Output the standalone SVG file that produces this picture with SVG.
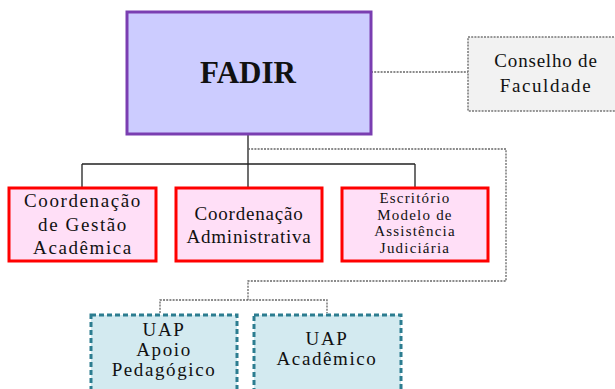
<svg xmlns="http://www.w3.org/2000/svg" width="615" height="389" viewBox="0 0 615 389">
<style>
text{font-family:"Liberation Serif","DejaVu Serif",serif;fill:#111;text-anchor:middle}
.t{font-size:19px;letter-spacing:0.8px}
.w{letter-spacing:1.6px}
.s{font-size:15px;letter-spacing:1.2px}
.red{fill:#ffdff7;stroke:#ff0000;stroke-width:3}
.uap{fill:#d3eaf0;stroke:#2c7d90;stroke-width:3;stroke-dasharray:5 3}
.solid{fill:none;stroke:#222;stroke-width:1.3}
.dot{fill:none;stroke:#666;stroke-width:1.3;stroke-dasharray:2 1.2}
</style>
<rect width="615" height="389" fill="#fff"/>
<g id="connectors">
<path class="solid" d="M248 134V164M82 164H415M82 164V188M248 164V188M415 164V188"/>
<path class="dot" d="M371 72H468M248 149H506V281H248V300M160 313V300H327V313"/>
</g>
<g id="fadir">
<rect x="127" y="12" width="244" height="122" fill="#ccccff" stroke="#7a3eb1" stroke-width="3"/>
<text x="248" y="83" font-size="31" font-weight="bold">FADIR</text>
</g>
<g id="conselho">
<rect x="468" y="37" width="150" height="74" fill="#f2f2f2" stroke="#777" stroke-width="1.5" stroke-dasharray="2 1.2"/>
<text class="t" x="546" y="67">Conselho de</text>
<text class="t w" x="546" y="92">Faculdade</text>
</g>
<g id="coord-gestao">
<rect class="red" x="9" y="188" width="147" height="73"/>
<text class="t w" x="83" y="207">Coordenação</text>
<text class="t w" x="83" y="231">de Gestão</text>
<text class="t w" x="83" y="254">Acadêmica</text>
</g>
<g id="coord-adm">
<rect class="red" x="176" y="188" width="146" height="73"/>
<text class="t" x="249" y="220">Coordenação</text>
<text class="t" x="249" y="243">Administrativa</text>
</g>
<g id="escritorio">
<rect class="red" x="342" y="188" width="146" height="73"/>
<text class="s" x="415" y="203">Escritório</text>
<text class="s" x="415" y="219.7">Modelo de</text>
<text class="s" x="415" y="236.4">Assistência</text>
<text class="s" x="415" y="253.1">Judiciária</text>
</g>
<g id="uap-apoio">
<rect class="uap" x="91" y="315" width="146" height="76"/>
<text class="t w" x="164" y="336">UAP</text>
<text class="t w" x="164" y="356">Apoio</text>
<text class="t w" x="164" y="376">Pedagógico</text>
</g>
<g id="uap-academico">
<rect class="uap" x="254" y="315" width="147" height="76"/>
<text class="t w" x="327" y="345">UAP</text>
<text class="t w" x="327" y="365">Acadêmico</text>
</g>
</svg>
